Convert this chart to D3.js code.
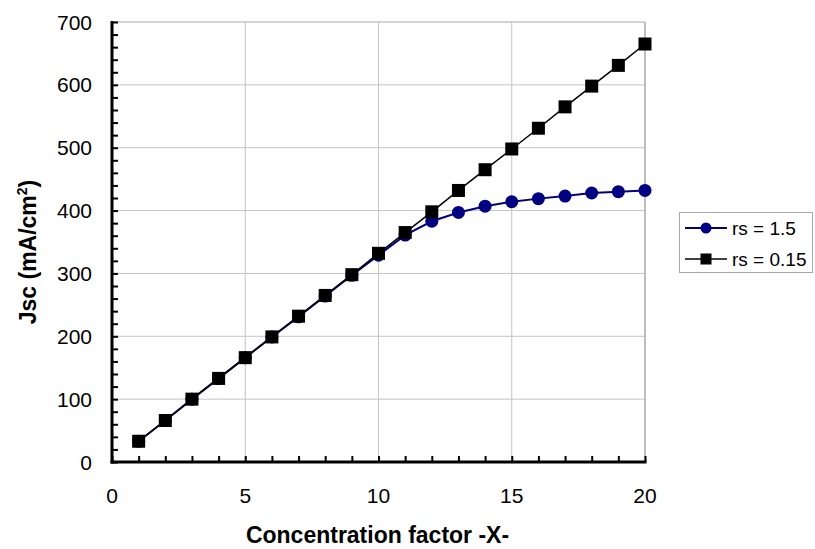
<!DOCTYPE html>
<html>
<head>
<meta charset="utf-8">
<script src="https://cdn.jsdelivr.net/npm/d3@7"></script>
<style>
  body { margin: 0; background: #fff; }
  text { font-family: "Liberation Sans", Arial, sans-serif; }
</style>
</head>
<body>
<script>
// data
const factors = [1, 2, 3, 4, 5, 6, 7, 8, 9, 10, 11, 12, 13, 14, 15, 16, 17, 18, 19, 20];
const jscRs15 = [33, 66, 100, 133, 166, 199, 231, 264, 297, 329, 361, 383, 397, 407, 414, 419, 423, 428, 430, 432];
const jscRs015 = [33, 66, 100, 133, 166, 199, 232, 265, 298, 332, 365, 398, 432, 465, 498, 531, 565, 598, 631, 665];
const seriesNames = ["rs = 1.5", "rs = 0.15"];
const xTicks = [0, 5, 10, 15, 20];
const yTicks = [0, 100, 200, 300, 400, 500, 600, 700];

// set the dimensions and margins of the graph
const W = 815, H = 549;
const margin = {top: 22, right: 170, bottom: 87, left: 112},
    width = W - margin.left - margin.right,
    height = H - margin.top - margin.bottom;

const svg = d3.select("body")
    .append("svg")
    .attr("width", W)
    .attr("height", H);

const g = svg.append("g")
    .attr("transform", `translate(${margin.left},${margin.top})`);

const x = d3.scaleLinear().domain([0, 20]).range([0, width]);
const y = d3.scaleLinear().domain([0, 700]).range([height, 0]);

// gridlines
g.append("g")
    .selectAll("line")
    .data(yTicks.slice(1))
    .join("line")
    .attr("x1", 0).attr("x2", width)
    .attr("y1", d => y(d)).attr("y2", d => y(d))
    .attr("stroke", "#c4c4c4").attr("stroke-width", d => d === 700 ? 1.5 : 1);

g.append("g")
    .selectAll("line")
    .data(xTicks.slice(1))
    .join("line")
    .attr("y1", 0).attr("y2", height)
    .attr("x1", d => x(d)).attr("x2", d => x(d))
    .attr("stroke", d => d === 20 ? "#a8a8a8" : "#c4c4c4")
    .attr("stroke-width", d => d === 20 ? 1.5 : 1);

// x axis: minor ticks every 1, labels every 5
const xAxis = g.append("g")
    .attr("transform", `translate(0,${height})`)
    .call(d3.axisBottom(x).tickValues(d3.range(0, 21, 1)).tickSize(-6).tickFormat(""));
xAxis.select(".domain").attr("stroke-width", 3).attr("d", `M-1.5,0H${width + 1.5}`);
xAxis.selectAll(".tick line").attr("stroke-width", 2);

g.append("g")
    .selectAll("text")
    .data(xTicks)
    .join("text")
    .attr("x", d => x(d))
    .attr("y", height + 41)
    .attr("text-anchor", "middle")
    .attr("font-size", 21)
    .text(d => d);

// y axis: minor ticks every 20, labels every 100
const yAxis = g.append("g")
    .call(d3.axisLeft(y).tickValues(d3.range(0, 701, 20)).tickSize(-6).tickFormat(""));
yAxis.select(".domain").attr("stroke-width", 3).attr("d", `M0,-1V${height + 1.5}`);
yAxis.selectAll(".tick line").attr("stroke-width", 2);

g.append("g")
    .selectAll("text")
    .data(yTicks)
    .join("text")
    .attr("x", -20)
    .attr("y", d => y(d) + 7.5)
    .attr("text-anchor", "end")
    .attr("font-size", 21)
    .text(d => d);

// axis titles
svg.append("text")
    .attr("x", margin.left + width / 2 - 1)
    .attr("y", 543)
    .attr("text-anchor", "middle")
    .attr("font-size", 23)
    .attr("font-weight", "bold")
    .text("Concentration factor -X-");

const yTitle = svg.append("text")
    .attr("transform", `translate(36,${margin.top + height / 2 + 10}) rotate(-90)`)
    .attr("text-anchor", "middle")
    .attr("font-size", 23)
    .attr("font-weight", "bold");
yTitle.append("tspan").text("Jsc (mA/cm");
yTitle.append("tspan").attr("font-size", 14).attr("dy", -9).text("2");
yTitle.append("tspan").attr("dy", 9).text(")");

// lines and markers
const line = d3.line()
    .x((d, i) => x(factors[i]))
    .y(d => y(d));

g.append("path")
    .datum(jscRs15)
    .attr("fill", "none")
    .attr("stroke", "#000080")
    .attr("stroke-width", 2)
    .attr("d", line);

g.append("path")
    .datum(jscRs015)
    .attr("fill", "none")
    .attr("stroke", "#000")
    .attr("stroke-width", 1.5)
    .attr("d", line);

g.append("g")
    .selectAll("circle")
    .data(jscRs15)
    .join("circle")
    .attr("cx", (d, i) => x(factors[i]))
    .attr("cy", d => y(d))
    .attr("r", 6.5)
    .attr("fill", "#000080");

g.append("g")
    .selectAll("rect")
    .data(jscRs015)
    .join("rect")
    .attr("x", (d, i) => x(factors[i]) - 6.5)
    .attr("y", d => y(d) - 6.5)
    .attr("width", 13)
    .attr("height", 13)
    .attr("fill", "#000");

// legend
const legend = svg.append("g").attr("transform", "translate(679,212)");
legend.append("rect")
    .attr("x", 0.5).attr("y", 0.5)
    .attr("width", 133).attr("height", 60)
    .attr("fill", "#fff")
    .attr("stroke", "#a8a8a8");

const items = legend.selectAll("g.item")
    .data(seriesNames)
    .join("g")
    .attr("class", "item")
    .attr("transform", (d, i) => `translate(0,${16 + i * 31})`);

items.append("line")
    .attr("x1", 6).attr("x2", 48)
    .attr("stroke", (d, i) => i === 0 ? "#000080" : "#000")
    .attr("stroke-width", (d, i) => i === 0 ? 2 : 1.5);

items.filter((d, i) => i === 0).append("circle")
    .attr("cx", 27).attr("r", 5.5).attr("fill", "#000080");

items.filter((d, i) => i === 1).append("rect")
    .attr("x", 21.5).attr("y", -5.5).attr("width", 11).attr("height", 11).attr("fill", "#000");

items.append("text")
    .attr("x", 53)
    .attr("y", 7)
    .attr("font-size", 19)
    .text(d => d);
</script>
</body>
</html>
